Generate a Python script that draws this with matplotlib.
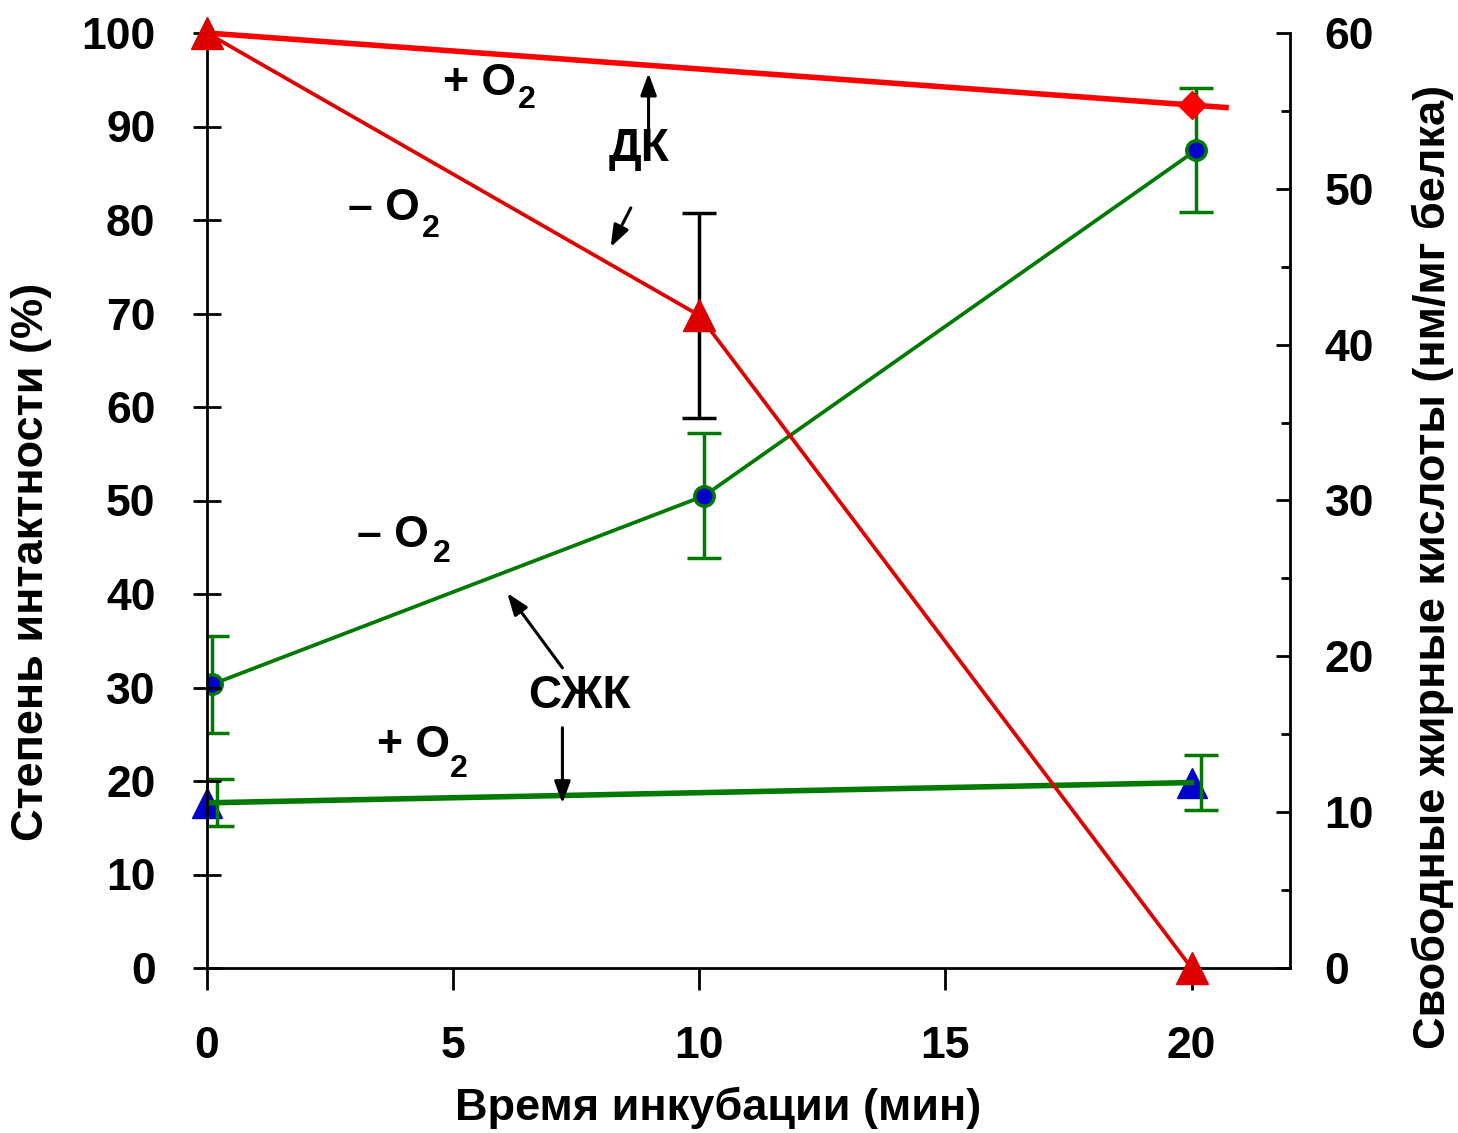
import numpy as np
import matplotlib
matplotlib.use("Agg")
import matplotlib.pyplot as plt

plt.rcParams['font.family'] = ['Liberation Sans', 'DejaVu Sans']
plt.rcParams['font.weight'] = 'bold'

# time points (min)
t = [0, 10, 20]
t2 = [0, 20]

# ДК (left axis, %)
dk_plus = [100, 92.3]          # + O2
dk_minus = [100, 69.8, 0]      # - O2
dk_minus_err = [0, 11, 0]

# СЖК (right axis, нм/мг белка)
ffa_minus = [18.2, 30.3, 52.5]
ffa_minus_err = [3.1, 4.0, 4.0]
ffa_plus = [10.6, 11.9]
ffa_plus_err = [1.5, 1.75]

xticks = [0, 5, 10, 15, 20]
yticks_left = list(range(0, 101, 10))
yticks_right = list(range(0, 61, 10))

red = '#ff0000'
red2 = '#e00000'
green = '#007a00'
blue = '#0000cc'

fig = plt.figure(figsize=(14.58, 11.33), dpi=100)
ax = fig.add_axes([207/1458, 1-968/1133, (1290-207)/1458, (968-33)/1133])
ax2 = ax.twinx()

# СЖК, right axis
ax2.errorbar(t2[0], ffa_plus[0], yerr=ffa_plus_err[0], fmt='none', ecolor=blue,
             elinewidth=2.2, capsize=11, capthick=2.2, zorder=2)
ax2.errorbar(np.array(t2) + 0.2, ffa_plus, yerr=ffa_plus_err, fmt='none', ecolor=green,
             elinewidth=2.5, capsize=12, capthick=2.5, zorder=3)
ax2.plot(t2, ffa_plus, ls='none', marker='^', ms=22, color=blue, zorder=2, clip_on=False)
ax2.plot(t2, ffa_plus, color=green, lw=4, zorder=3)

tf = np.array(t) + 0.1
ax2.errorbar(tf, ffa_minus, yerr=ffa_minus_err, fmt='none', ecolor=green,
             elinewidth=2.5, capsize=12, capthick=2.5, zorder=3)
ax2.plot(tf, ffa_minus, color=green, lw=2.7, marker='o', ms=14,
         mfc=blue, mec=green, mew=2.5, zorder=4)

# ДК, left axis
ax2.set_zorder(1)
ax.set_zorder(2)
ax.patch.set_visible(False)

k, b = np.polyfit(t2, dk_plus, 1)
xx = np.array([t2[0], t2[-1] + 0.7])
ax.plot(xx, k*xx + b, color=red, lw=4, zorder=3, clip_on=False)
ax.plot(t2[-1], dk_plus[-1], ls='none', marker='D', ms=14, color=red, zorder=4)

ax.errorbar(t[1], dk_minus[1], yerr=dk_minus_err[1], fmt='none', ecolor='black',
            elinewidth=2.5, capsize=12, capthick=2.5, zorder=2)
ax.plot(t, dk_minus, color=red2, lw=2.7, zorder=3)
ax.plot(t, dk_minus, ls='none', marker='^', ms=23, color='#dd0000', zorder=4,
        clip_on=False)

# axes
ax.set_xlim(0, 22)
ax.set_ylim(0, 100)
ax2.set_ylim(0, 60)

ax.spines['top'].set_visible(False)
ax2.spines['top'].set_visible(False)
ax.spines['right'].set_visible(False)
for s in ['left', 'bottom']:
    ax.spines[s].set_linewidth(2)
ax2.spines['right'].set_linewidth(2)
ax2.spines['left'].set_visible(False)
ax2.spines['bottom'].set_visible(False)

ax.set_xticks(xticks)
ax.set_yticks(yticks_left)
ax.tick_params(axis='x', direction='out', length=16, width=2, pad=26, labelsize=32)
ax.tick_params(axis='y', direction='inout', length=20, width=2, pad=27, labelsize=32)

ax2.set_yticks(yticks_right)
ax2.set_yticks(np.arange(5, 60, 10), minor=True)
ax2.tick_params(axis='y', which='major', direction='in', length=10, width=2, pad=25, labelsize=32)
ax2.tick_params(axis='y', which='minor', direction='in', length=6.5, width=2)

ax.set_xlabel('Время инкубации (мин)', fontsize=32.5, fontweight='bold')
ax.xaxis.set_label_coords(0.472, -0.127)
ax.set_ylabel('Степень интактности (%)', fontsize=32.5, fontweight='bold')
ax.yaxis.set_label_coords(-0.143, 0.434)
ax2.set_ylabel('Свободные жирные кислоты (нм/мг белка)', fontsize=32.5, fontweight='bold')
ax2.yaxis.set_label_coords(1.1127, 0.429)

# annotations (left-axis data coords)
ax.text(4.80, 93.4, '+ O', fontsize=32, ha='left', va='baseline')
ax.text(6.31, 92.0, '2', fontsize=23, ha='left', va='baseline')
ax.text(2.87, 80.0, '– O', fontsize=32, ha='left', va='baseline')
ax.text(4.37, 78.2, '2', fontsize=23, ha='left', va='baseline')
ax.text(3.05, 45.0, '– O', fontsize=32, ha='left', va='baseline')
ax.text(4.58, 43.4, '2', fontsize=23, ha='left', va='baseline')
ax.text(3.46, 22.6, '+ O', fontsize=32, ha='left', va='baseline')
ax.text(4.94, 20.4, '2', fontsize=23, ha='left', va='baseline')
ax.text(8.16, 86.3, 'ДК', fontsize=33, ha='left', va='baseline')
ax.text(6.53, 27.8, 'СЖК', fontsize=33, ha='left', va='baseline')

arrow = dict(arrowstyle='-|>,head_length=0.6,head_width=0.22', color='black', lw=2.2,
             mutation_scale=22, shrinkA=0, shrinkB=0)
ax.annotate('', xy=(8.97, 95.7), xytext=(8.97, 89.4), arrowprops=arrow)
ax.annotate('', xy=(8.20, 77.1), xytext=(8.61, 81.3), arrowprops=arrow)
ax.annotate('', xy=(6.10, 40.1), xytext=(7.22, 32.1), arrowprops=arrow)
ax.annotate('', xy=(7.22, 17.6), xytext=(7.22, 25.7), arrowprops=arrow)

fig.savefig('out.png', dpi=100)
